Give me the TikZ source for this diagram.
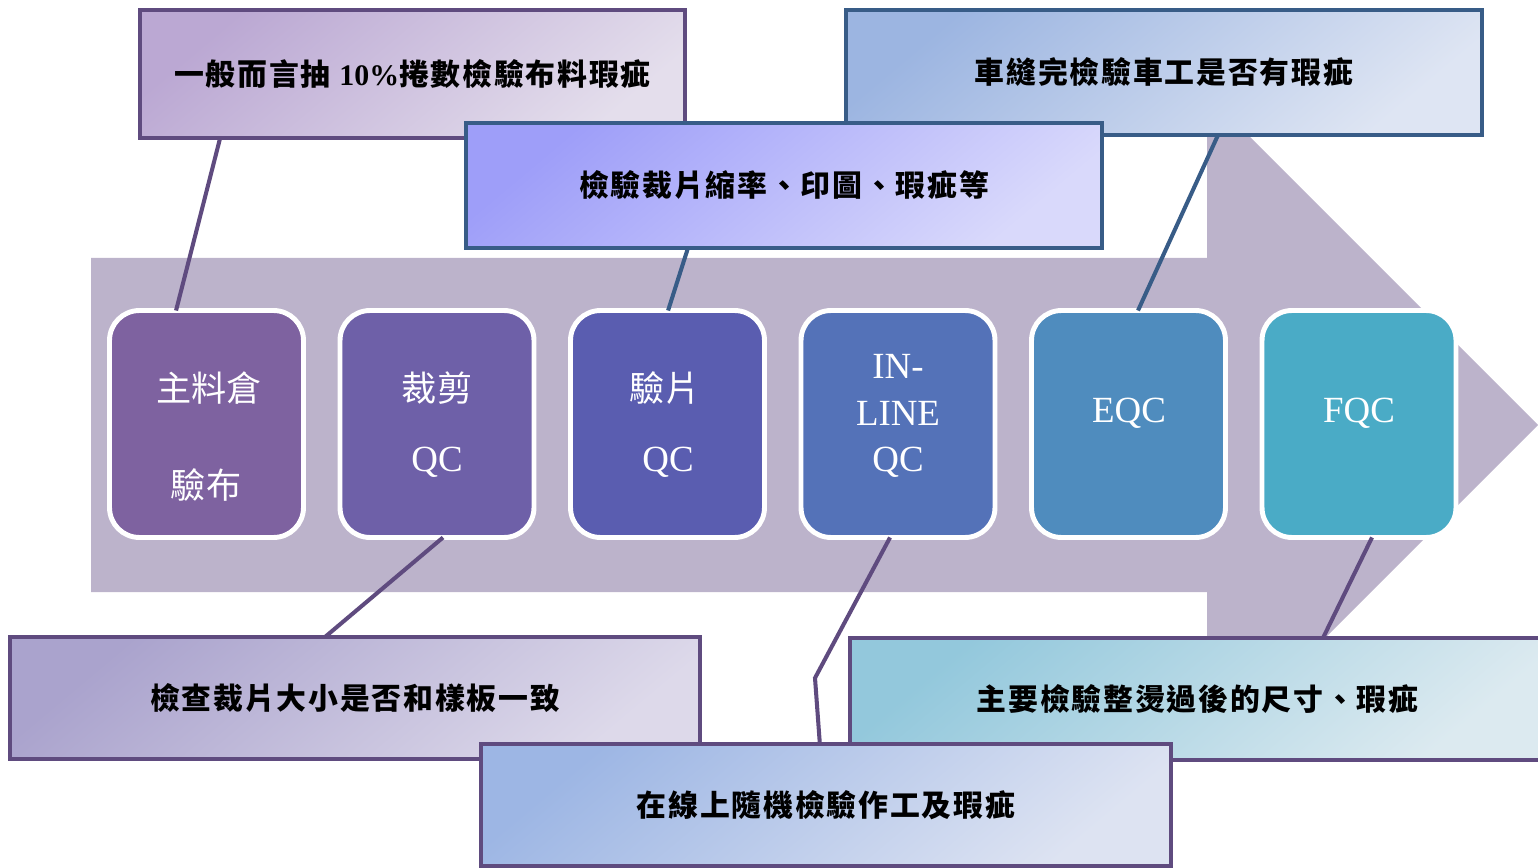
\documentclass[tikz,border=0pt]{standalone}
\usepackage{fontspec}
\setmainfont{Liberation Serif}
\newfontfamily\cjk{Noto Sans CJK TC}
\newfontfamily\cjkw{Noto Sans CJK TC}[LetterSpace=6]
\usetikzlibrary{calc}
\definecolor{arrowgrey}{HTML}{BCB3CB}
\definecolor{c1}{HTML}{7E62A0}
\definecolor{c2}{HTML}{6E60A8}
\definecolor{c3}{HTML}{5A5DB0}
\definecolor{c4}{HTML}{5472B8}
\definecolor{c5}{HTML}{4F8CBE}
\definecolor{c6}{HTML}{4AABC6}
\definecolor{purpline}{HTML}{5F4B7F}
\definecolor{blueline}{HTML}{385C87}
\definecolor{aD}{HTML}{BBA8D3}\definecolor{aL}{HTML}{E4DEEC}
\definecolor{bD}{HTML}{9CB5E1}\definecolor{bL}{HTML}{DEE5F3}
\definecolor{cD}{HTML}{9E9EF9}\definecolor{cL}{HTML}{D9D9FB}
\definecolor{dD}{HTML}{AAA3CD}\definecolor{dL}{HTML}{DDD9EA}
\definecolor{eD}{HTML}{93C8DC}\definecolor{eL}{HTML}{DCEAF0}
\definecolor{fD}{HTML}{9DB6E4}\definecolor{fL}{HTML}{DDE3F2}
\tikzset{
  stepbox/.style={draw=white, line width=2.8pt, rounded corners=17pt,
    minimum width=3.88cm, minimum height=4.54cm, inner sep=0pt, outer sep=0pt},
  boxcjk/.style={text=white, inner sep=0pt, font=\cjk\fontsize{20}{23}\selectfont},
  boxlat/.style={text=white, inner sep=0pt, font=\fontsize{21}{24}\selectfont},
  callout/.style={line width=2.3pt, inner sep=0pt, outer sep=0pt,
    font=\cjkw\bfseries\fontsize{17}{20}\selectfont},
  grad/.style n args={2}{left color=#1, right color=#2, shading angle=40},
  purpconn/.style={draw=purpline, line width=2.3pt},
  blueconn/.style={draw=blueline, line width=2.3pt},
}
\begin{document}
\begin{tikzpicture}[x=0.02cm, y=-0.02cm]
\useasboundingbox (0,0) rectangle (1538,868);
\clip (0,0) rectangle (1538,868);
% big arrow
\fill[arrowgrey] (91,258) -- (1207,258) -- (1207,94) -- (1538,425)
  -- (1207,756) -- (1207,592) -- (91,592) -- cycle;
% step boxes
\node[stepbox, fill=c1] (b1) at (206.5,424) {};
\node[stepbox, fill=c2] (b2) at (437,424) {};
\node[stepbox, fill=c3] (b3) at (667.5,424) {};
\node[stepbox, fill=c4] (b4) at (898,424) {};
\node[stepbox, fill=c5] (b5) at (1128.5,424) {};
\node[stepbox, fill=c6] (b6) at (1359,424) {};
% box texts
\node[boxcjk] (t1a) at (209,388) {主料倉};
\node[boxcjk] (t1b) at (206,485) {驗布};
\node[boxcjk] (t2a) at (437,388) {裁剪};
\node[boxlat] (t2b) at (437,462) {QC};
\node[boxcjk] (t3a) at (665,388) {驗片};
\node[boxlat] (t3b) at (668,462) {QC};
\node[boxlat] (t4a) at (898,366) {IN-};
\node[boxlat] (t4b) at (898,413) {LINE};
\node[boxlat] (t4c) at (898,462) {QC};
\node[boxlat] (t5) at (1129,413) {EQC};
\node[boxlat] (t6) at (1359,413) {FQC};
% callouts
\node[callout, draw=purpline, grad={aD}{aL}, minimum width=10.9cm, minimum height=2.56cm]
  (ca) at (412.5,74) {一般而言抽 {\rmfamily\bfseries 10\%}捲數檢驗布料瑕疵};
\node[callout, draw=blueline, grad={bD}{bL}, minimum width=12.72cm, minimum height=2.5cm]
  (cb) at (1164,72.5) {車縫完檢驗車工是否有瑕疵};
% connectors to top callouts
\draw[purpconn] ($(ca.south west)!0.147!(ca.south east)$) -- ($(b1.north west)!0.343!(b1.north east)$);
\draw[blueconn] ($(cb.south west)!0.585!(cb.south east)$) -- ($(b5.north west)!0.549!(b5.north east)$);
\node[callout, draw=blueline, grad={cD}{cL}, minimum width=12.72cm, minimum height=2.5cm]
  (cc) at (784,185.5) {檢驗裁片縮率、印圖、瑕疵等};
\draw[blueconn] ($(cc.south west)!0.349!(cc.south east)$) -- ($(b3.north west)!0.503!(b3.north east)$);
% bottom callouts
\coordinate (fbend) at (815,678);
\draw[purpconn] ($(b2.south west)!0.531!(b2.south east)$) -- (325,637) coordinate (dtop);
\draw[purpconn] ($(b6.south west)!0.567!(b6.south east)$) -- (1322,640) coordinate (etop);
\draw[purpconn] ($(b4.south west)!0.459!(b4.south east)$) -- (fbend) -- (820,746) coordinate (ftop);
\node[callout, draw=purpline, grad={dD}{dL}, minimum width=13.8cm, minimum height=2.44cm]
  (cd) at (355,698) {檢查裁片大小是否和樣板一致};
\node[callout, draw=purpline, grad={eD}{eL}, minimum width=13.9cm, minimum height=2.44cm]
  (ce) at (1197.5,699) {主要檢驗整燙過後的尺寸、瑕疵};
\node[callout, draw=purpline, grad={fD}{fL}, minimum width=13.8cm, minimum height=2.44cm]
  (cf) at (826,805) {在線上隨機檢驗作工及瑕疵};
\end{tikzpicture}
\end{document}
